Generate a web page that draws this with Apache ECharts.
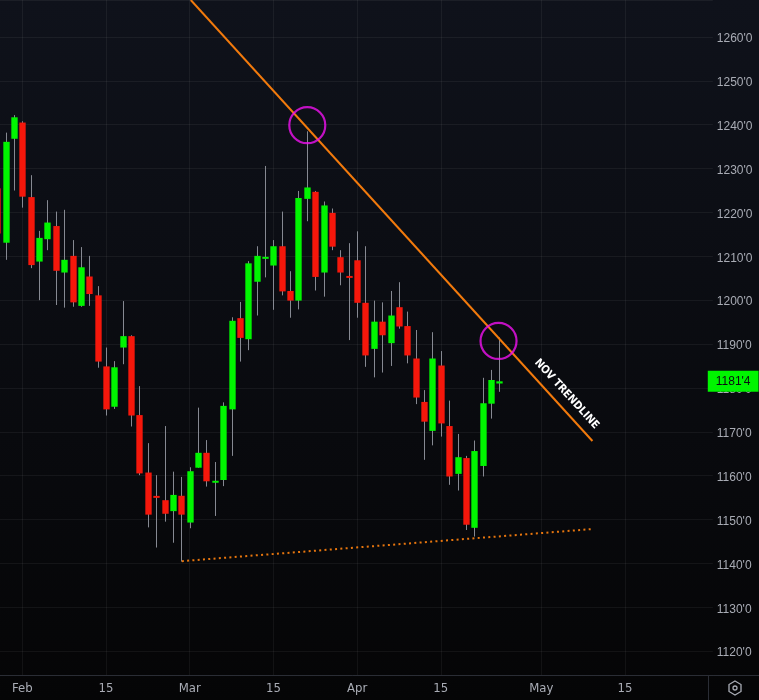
<!DOCTYPE html>
<html>
<head>
<meta charset="utf-8">
<script src="https://cdn.jsdelivr.net/npm/echarts@6/dist/echarts.min.js"></script>
<style>
  html, body { margin: 0; padding: 0; background: #07080b; overflow: hidden; }
  /* chart is 7px wider and shifted left so the first bar is cut like in the original */
  #main { width: 766px; height: 700px; margin-left: -7px; }
</style>
</head>
<body>
<div id="main"></div>
<script>
//-------------------------= data =-------------------------
// trading days (category axis)
var dates = [
  '01-29','01-30','01-31',
  '02-01','02-02','02-05','02-06','02-07','02-08','02-09','02-12','02-13','02-14','02-15','02-16','02-20','02-21','02-22','02-23','02-26','02-27','02-28','02-29',
  '03-01','03-04','03-05','03-06','03-07','03-08','03-11','03-12','03-13','03-14','03-15','03-18','03-19','03-20','03-21','03-22','03-25','03-26','03-27','03-28',
  '04-01','04-02','04-03','04-04','04-05','04-08','04-09','04-10','04-11','04-12','04-15','04-16','04-17','04-18','04-19','04-22','04-23','04-24','04-25','04-26','04-29','04-30',
  '05-01','05-02','05-03','05-06','05-07','05-08','05-09','05-10','05-13','05-14','05-15','05-16','05-17','05-20','05-21','05-22','05-23','05-24','05-28','05-29','05-30'
];

// open, close, low, high
var ohlc = [
  [1225.5,1215.2,1212.0,1228.0],
  [1213.1,1236.1,1209.2,1238.2],
  [1236.8,1241.7,1225.0,1242.2],
  [1240.5,1223.6,1221.1,1240.8],
  [1223.5,1208.0,1207.3,1228.5],
  [1208.8,1214.2,1200.0,1215.8],
  [1213.9,1217.7,1211.4,1222.8],
  [1216.9,1206.7,1198.9,1220.2],
  [1206.3,1209.2,1198.3,1220.6],
  [1210.1,1199.5,1198.5,1213.7],
  [1198.7,1207.5,1198.5,1212.1],
  [1205.4,1201.4,1198.7,1210.1],
  [1201.1,1186.0,1184.6,1203.2],
  [1184.9,1175.1,1173.7,1189.2],
  [1175.7,1184.7,1175.2,1186.1],
  [1189.2,1191.8,1185.4,1199.8],
  [1191.8,1173.7,1171.2,1192.0],
  [1173.8,1160.5,1160.1,1180.4],
  [1160.7,1151.1,1148.2,1167.4],
  [1155.3,1155.0,1143.6,1160.1],
  [1154.4,1151.3,1149.5,1171.3],
  [1151.9,1155.6,1144.7,1160.9],
  [1155.4,1151.1,1140.4,1159.7],
  [1149.3,1161.0,1148.0,1161.9],
  [1161.8,1165.2,1161.8,1175.5],
  [1165.2,1158.7,1157.5,1168.1],
  [1158.4,1158.8,1150.8,1163.1],
  [1159.0,1175.9,1157.6,1176.7],
  [1175.1,1195.3,1164.5,1196.1],
  [1195.9,1191.4,1186.0,1199.6],
  [1191.1,1208.4,1188.6,1208.9],
  [1204.2,1210.1,1196.5,1212.3],
  [1209.5,1209.8,1205.2,1230.6],
  [1207.9,1212.3,1197.8,1213.7],
  [1212.3,1202.0,1201.1,1220.2],
  [1202.1,1199.9,1196.0,1206.6],
  [1199.9,1223.3,1197.9,1224.9],
  [1223.1,1225.7,1218.0,1238.5],
  [1224.7,1205.3,1202.2,1224.9],
  [1206.3,1221.6,1200.8,1222.5],
  [1219.9,1212.2,1211.4,1220.9],
  [1209.8,1206.3,1203.4,1211.4],
  [1205.4,1205.2,1190.9,1213.0],
  [1209.1,1199.4,1196.0,1215.7],
  [1199.4,1187.4,1184.8,1212.3],
  [1188.9,1195.1,1182.4,1199.9],
  [1195.1,1192.0,1183.5,1199.5],
  [1190.2,1196.5,1185.0,1202.1],
  [1198.4,1194.0,1193.5,1204.1],
  [1194.1,1187.4,1185.6,1197.4],
  [1186.7,1177.8,1176.3,1193.2],
  [1176.8,1172.3,1163.6,1179.5],
  [1170.2,1186.7,1166.9,1192.7],
  [1185.1,1171.9,1168.9,1188.4],
  [1171.3,1159.8,1157.9,1177.1],
  [1160.4,1164.2,1156.6,1169.5],
  [1164.0,1148.8,1147.6,1164.5],
  [1148.1,1165.6,1146.1,1168.0],
  [1162.2,1176.5,1159.8,1182.3],
  [1176.4,1181.8,1173.0,1184.1],
  [1181.0,1181.5,1179.1,1191.5]
];

// x tick labels (first trading day of month / the 15th)
var tickIdx = [3, 13, 23, 33, 43, 53, 65, 75];
var tickLabels = ['Feb', '15', 'Mar', '15', 'Apr', '15', 'May', '15'];

// drawings, in [bar index, price]
var trendPts = [[23.13, 1268.44], [71.12, 1167.9]];
var supportPts = [[22.06, 1140.5], [71.04, 1147.8]];
var circlePts = [[37.05, 1239.9], [59.9, 1190.7]];
var lastPrice = 1181.5;
var lastIdx = 60;

var upColor = '#00f500';
var downColor = '#f5170b';
var wickColor = '#868992';
var labelColor = '#a9acb5';
var lineColor = '#2a2d35';

//-------------------------= helpers =-------------------------
// 1181.5 -> 1181'4  (eighths)
function fmtPrice(v) {
  var whole = Math.floor(v + 1e-6);
  var eighth = Math.round((v - whole) * 8);
  return whole + "'" + eighth;
}

function renderCandle(params, api) {
  var i = api.value(0);
  var o = api.value(1), c = api.value(2), l = api.value(3), h = api.value(4);
  var pO = api.coord([i, o]);
  var pC = api.coord([i, c]);
  var pL = api.coord([i, l]);
  var pH = api.coord([i, h]);
  var w = api.size([1, 0])[0] * 0.76;
  var x = Math.round(pO[0]) + 0.5;
  var top = Math.min(pO[1], pC[1]);
  var bh = Math.max(Math.abs(pO[1] - pC[1]), 2);
  if (Math.abs(pO[1] - pC[1]) < 2) top = (pO[1] + pC[1]) / 2 - 1;
  return {
    type: 'group',
    children: [
      { type: 'line', shape: { x1: x, y1: pH[1], x2: x, y2: pL[1] }, style: { stroke: wickColor, lineWidth: 1 } },
      { type: 'rect', shape: { x: x - w / 2, y: top, width: w, height: bh }, style: { fill: c >= o ? upColor : downColor } }
    ]
  };
}

var candleData = ohlc.map(function (d, i) { return [i, d[0], d[1], d[2], d[3]]; });

//-------------------------= chart =-------------------------
var chart = echarts.init(document.getElementById('main'), null, { renderer: 'canvas' });

var option = {
  animation: false,
  backgroundColor: {
    type: 'linear', x: 0, y: 0, x2: 0, y2: 1,
    colorStops: [{ offset: 0, color: '#0f121b' }, { offset: 1, color: '#050506' }]
  },
  grid: { left: 0, right: 46.2, top: 0, bottom: 25, containLabel: false },
  xAxis: [
    {
      type: 'category',
      data: dates,
      boundaryGap: true,
      axisLine: { show: true, lineStyle: { color: lineColor } },
      axisTick: { show: false },
      splitLine: { show: false },
      axisLabel: {
        color: labelColor,
        fontSize: 13,
        fontFamily: "'Liberation Sans Narrow', 'DejaVu Sans Condensed', sans-serif",
        margin: 7,
        interval: function (index) { return tickIdx.indexOf(index) >= 0; },
        formatter: function (value, index) {
          var k = tickIdx.indexOf(index);
          return k >= 0 ? tickLabels[k] : '';
        }
      }
    },
    {
      // overlay axis in bar-index units for the drawings
      type: 'value',
      min: -0.5,
      max: dates.length - 0.5,
      show: false
    }
  ],
  yAxis: {
    type: 'value',
    position: 'right',
    offset: -5,
    min: 1114.54,
    max: 1268.44,
    minInterval: 10,
    maxInterval: 10,
    splitNumber: 15,
    axisLine: { show: true, lineStyle: { color: lineColor } },
    axisTick: { show: false },
    splitLine: { show: true, lineStyle: { color: 'rgba(255,255,255,0.055)' } },
    axisLabel: {
      color: labelColor,
      fontSize: 12,
      fontFamily: "'Liberation Sans', Arial, sans-serif",
      margin: 9,
      showMinLabel: false,
      showMaxLabel: false,
      formatter: function (v) { return '{p|' + fmtPrice(v) + '}'; },
      rich: {
        p: { color: labelColor, fontSize: 12, fontFamily: "'Liberation Sans', Arial, sans-serif", padding: [4, 0, 0, 0] }
      }
    }
  },
  series: [
    {
      type: 'custom',
      name: 'price',
      xAxisIndex: 0,
      z: 3,
      clip: true,
      renderItem: renderCandle,
      encode: { x: 0, y: [1, 2, 3, 4] },
      data: candleData
    },
    {
      type: 'line',
      name: 'support',
      xAxisIndex: 1,
      z: 4,
      symbol: 'none',
      silent: true,
      lineStyle: { color: '#e8760e', width: 2, type: [2, 3.3] },
      data: supportPts,
      // vertical grid lines at the date ticks
      markLine: {
        silent: true,
        symbol: 'none',
        z: 1,
        label: { show: false },
        lineStyle: { color: 'rgba(255,255,255,0.055)', type: 'solid', width: 1 },
        data: tickIdx.map(function (i) { return { xAxis: i }; })
      }
    },
    {
      type: 'line',
      name: 'trend',
      xAxisIndex: 1,
      z: 4,
      symbol: 'none',
      silent: true,
      lineStyle: { color: '#f27a0c', width: 2 },
      data: trendPts,
      markLine: {
        silent: true,
        symbol: 'none',
        z: 6,
        lineStyle: { color: 'rgba(0,0,0,0)', width: 1, type: 'solid' },
        label: {
          show: true,
          position: 'insideEndTop',
          distance: 7,
          formatter: 'NOV TRENDLINE',
          color: '#ffffff',
          fontWeight: 'bold',
          fontSize: 11,
          fontFamily: "'Liberation Sans Narrow', 'DejaVu Sans Condensed', sans-serif"
        },
        data: [[{ coord: trendPts[0] }, { coord: trendPts[1] }]]
      }
    },
    {
      type: 'scatter',
      name: 'circles',
      xAxisIndex: 1,
      z: 5,
      silent: true,
      symbol: 'circle',
      symbolSize: 36,
      itemStyle: { color: 'rgba(0,0,0,0)', borderColor: '#f012f0', borderWidth: 2.2 },
      data: circlePts,
      // last price tag on the axis
      markLine: {
        silent: true,
        symbol: 'none',
        z: 10,
        lineStyle: { color: 'rgba(0,0,0,0)', width: 1, type: 'solid' },
        label: {
          show: true,
          position: 'end',
          distance: 0,
          formatter: fmtPrice(lastPrice),
          backgroundColor: upColor,
          color: '#0b0d12',
          fontSize: 12,
          fontFamily: "'Liberation Sans', Arial, sans-serif",
          padding: [5, 8, 4, 8]
        },
        data: [[{ coord: [lastIdx, lastPrice] }, { coord: [84.9, lastPrice] }]]
      }
    }
  ],
  graphic: [
    { type: 'line', shape: { x1: 715.5, y1: 675, x2: 715.5, y2: 700 }, style: { stroke: lineColor, lineWidth: 1 } },
    { type: 'line', shape: { x1: 715, y1: 675.5, x2: 766, y2: 675.5 }, style: { stroke: lineColor, lineWidth: 1 } },
    {
      // settings icon, bottom right
      type: 'group', x: 742, y: 688,
      children: [
        { type: 'polygon', shape: { points: [[0, -7], [6, -3.5], [6, 3.5], [0, 7], [-6, 3.5], [-6, -3.5]] }, style: { fill: 'none', stroke: labelColor, lineWidth: 1.3 } },
        { type: 'circle', shape: { cx: 0, cy: 0, r: 2 }, style: { fill: 'none', stroke: labelColor, lineWidth: 1.3 } }
      ]
    }
  ]
};

chart.setOption(option);
</script>
</body>
</html>
